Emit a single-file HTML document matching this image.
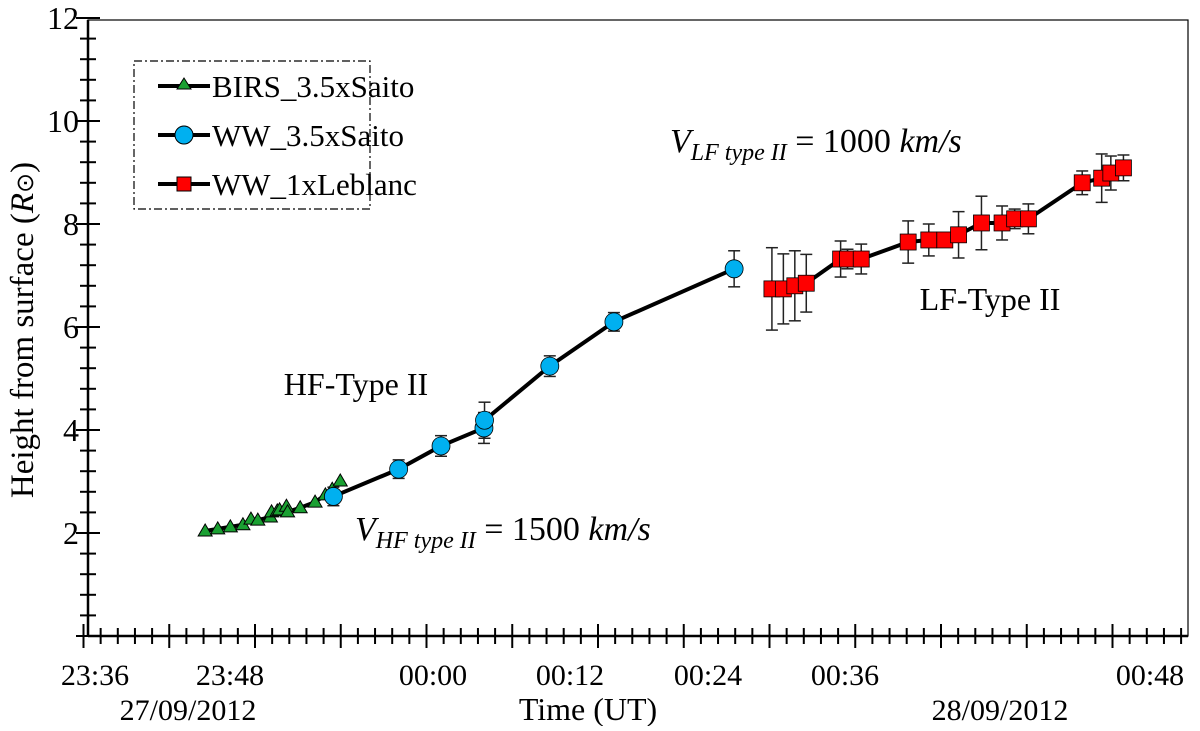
<!DOCTYPE html>
<html><head><meta charset="utf-8"><style>
body{margin:0;background:#fff}
svg text{font-family:"Liberation Serif",serif;fill:#000}
</style></head><body>
<svg id="c" width="1200" height="726" xmlns="http://www.w3.org/2000/svg">
<rect x="88" y="20" width="1100" height="616" fill="none" stroke="#000" stroke-width="1.2"/>
<g id="axes"></g>
<g id="series"></g>
<text x="33" y="330" font-size="33" text-anchor="middle" transform="rotate(-90 33 330)">Height from surface (<tspan font-style="italic">R</tspan><tspan font-size="24">⊙</tspan>)</text>
<text x="588" y="720" font-size="32" text-anchor="middle">Time (UT)</text>
<text x="188" y="720" font-size="30" text-anchor="middle">27/09/2012</text>
<text x="1000" y="720" font-size="30" text-anchor="middle">28/09/2012</text>
<text x="356" y="395" font-size="32" text-anchor="middle">HF-Type II</text>
<text x="990" y="310" font-size="32" text-anchor="middle">LF-Type II</text>
<text x="355" y="540" font-size="34" font-style="italic">V<tspan font-size="24" dy="8">HF type II</tspan><tspan dy="-8" font-style="normal"> = 1500 </tspan>km/s</text>
<text x="670" y="152" font-size="34" font-style="italic">V<tspan font-size="24" dy="8">LF type II</tspan><tspan dy="-8" font-style="normal"> = 1000 </tspan>km/s</text>
<g>
<rect x="134" y="61" width="236" height="148" fill="#fff" stroke="#000" stroke-width="1.2" stroke-dasharray="8,3,2,3"/>
<line x1="158" y1="86" x2="210" y2="86" stroke="#000" stroke-width="4"/><polygon points="184,78 177,89 191,89" fill="#1aa032" stroke="#000"/>
<text x="212" y="97" font-size="31">BIRS_3.5xSaito</text>
<line x1="158" y1="135" x2="210" y2="135" stroke="#000" stroke-width="4"/><circle cx="184" cy="135" r="9" fill="#00b0f0" stroke="#000"/>
<text x="212" y="146" font-size="31">WW_3.5xSaito</text>
<line x1="158" y1="184" x2="210" y2="184" stroke="#000" stroke-width="4"/><rect x="177" y="177" width="14" height="14" fill="#f00" stroke="#000"/>
<text x="212" y="195" font-size="31">WW_1xLeblanc</text>
</g>
</svg>
<script>
const birsT=[-19.9,-18.8,-17.7,-16.6,-15.9,-15.3,-14.2,-14.1,-13.6,-13.4,-12.8,-12.7,-11.6,-10.3,-9.4,-8.8,-8.1];
const birsH=[2.04,2.08,2.12,2.16,2.27,2.25,2.31,2.41,2.43,2.45,2.52,2.41,2.49,2.60,2.74,2.85,3.01];
const wwT=[-8.7,-3.0,0.7,4.45,4.5,10.2,15.8,26.3];
const wwH=[2.71,3.24,3.69,4.04,4.19,5.24,6.10,7.13];
const wwE=[0.18,0.18,0.2,0.3,0.35,0.2,0.18,0.35];
const lbT=[29.6,30.6,31.6,32.6,35.6,36.2,37.4,41.5,43.3,44.7,45.9,47.9,49.7,50.8,52.0,56.7,58.4,59.2,60.3];
const lbH=[6.74,6.74,6.80,6.85,7.32,7.32,7.32,7.65,7.69,7.69,7.79,8.02,8.02,8.10,8.10,8.80,8.89,8.99,9.09];
const lbE=[0.80,0.68,0.68,0.56,0.35,0.19,0.29,0.41,0.31,0.05,0.45,0.52,0.33,0.19,0.29,0.23,0.47,0.33,0.25];
const yTicks=[2,4,6,8,10,12];
const xTickLabels=["23:36","23:48","00:00","00:12","00:24","00:36","00:48"];
const xTickLabelPx=[95,230,433,570,708,845,1150];
const NS="http://www.w3.org/2000/svg";
const X=t=>433+11.45*t, Y=v=>636-51.5*v;
function mk(tag,at,par){const e=document.createElementNS(NS,tag);for(const k in at)e.setAttribute(k,at[k]);par.appendChild(e);return e;}
const ax=document.getElementById('axes'),sr=document.getElementById('series');
mk('line',{x1:88,y1:636,x2:1188,y2:636,stroke:'#000','stroke-width':2.5},ax);
mk('line',{x1:88,y1:20,x2:88,y2:636,stroke:'#000','stroke-width':2.5},ax);
for(let v=0;v<=12.001;v+=0.4){const y=Y(v);const maj=Math.abs(v/2-Math.round(v/2))<0.01;
 const l=mk('line',{x1:maj?76:80,y1:y,x2:maj?100:96,y2:y,stroke:'#000','stroke-width':2},ax);
 }
yTicks.forEach(v=>{const t=mk('text',{x:79,y:Y(v)+11,'font-size':32,'text-anchor':'end'},ax);t.textContent=v;
 });
for(let i=0;i<=64;i++){const x=83.5+17.15*i;if(x>1188)break;const maj=i%5==0;
 const l=mk('line',{x1:x,y1:maj?624:628,x2:x,y2:maj?648:644,stroke:'#000','stroke-width':2},ax);
 }
xTickLabels.forEach((s,i)=>{const t=mk('text',{x:xTickLabelPx[i],y:685,'font-size':30,'text-anchor':'middle'},ax);t.textContent=s;
 });
function line(T,H,name){const p=mk('polyline',{points:T.map((t,i)=>X(t)+','+Y(H[i])).join(' '),fill:'none',stroke:'#000','stroke-width':4},sr);
 }
function err(T,H,E){T.forEach((t,i)=>{const x=X(t),a=Y(H[i]+E[i]),b=Y(H[i]-E[i]);
 const g=mk('g',{stroke:'#222','stroke-width':1.5},sr);
 mk('line',{x1:x,y1:a,x2:x,y2:b},g);mk('line',{x1:x-6,y1:a,x2:x+6,y2:a},g);mk('line',{x1:x-6,y1:b,x2:x+6,y2:b},g);});}
line(birsT,birsH,'birs-line');
line(wwT.slice(0,7),wwH.slice(0,7),'ww-saito-line');line([wwT[6],wwT[7]],[wwH[6],wwH[7]],'ww-saito-line-tail');
line(lbT,lbH,'ww-leblanc-line');
err(wwT,wwH,wwE);err(lbT,lbH,lbE);
birsT.forEach((t,i)=>{const x=X(t),y=Y(birsH[i]);const p=mk('polygon',{points:`${x},${y-7} ${x-7},${y+5} ${x+7},${y+5}`,fill:'#1aa032',stroke:'#000'},sr);
 });
wwT.forEach((t,i)=>{const c=mk('circle',{cx:X(t),cy:Y(wwH[i]),r:9,fill:'#00b0f0',stroke:'#000','stroke-width':0.8},sr);
 });
lbT.forEach((t,i)=>{const r=mk('rect',{x:X(t)-8,y:Y(lbH[i])-8,width:16,height:16,fill:'#f00',stroke:'#000','stroke-width':0.8},sr);
 });
</script>
</body></html>
